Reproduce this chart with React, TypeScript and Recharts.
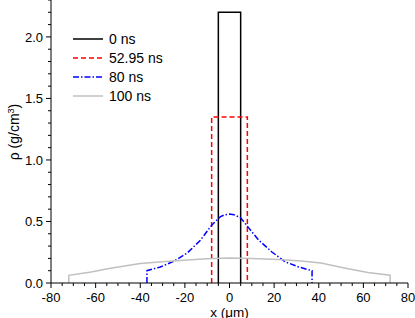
import { LineChart, Line, XAxis, YAxis, Legend } from 'recharts';

// density profiles rho(x) at four times
const NS0 = [
  { x: -5, rho: 0 },
  { x: -5, rho: 2.2 },
  { x: 5, rho: 2.2 },
  { x: 5, rho: 0 },
];

const NS5295 = [
  { x: -8, rho: 0 },
  { x: -8, rho: 1.35 },
  { x: 8, rho: 1.35 },
  { x: 8, rho: 0 },
];

const NS80 = [
  { x: -37, rho: 0 },
  { x: -37, rho: 0.1 },
  { x: -31, rho: 0.13 },
  { x: -25, rho: 0.176 },
  { x: -19, rho: 0.243 },
  { x: -13, rho: 0.348 },
  { x: -8, rho: 0.47 },
  { x: -4, rho: 0.54 },
  { x: -2, rho: 0.555 },
  { x: 0, rho: 0.56 },
  { x: 2, rho: 0.555 },
  { x: 5, rho: 0.53 },
  { x: 8.5, rho: 0.45 },
  { x: 13, rho: 0.35 },
  { x: 19, rho: 0.252 },
  { x: 25, rho: 0.172 },
  { x: 31, rho: 0.13 },
  { x: 37, rho: 0.1 },
  { x: 37, rho: 0 },
];

const NS100 = [
  { x: -72, rho: 0 },
  { x: -72, rho: 0.062 },
  { x: -62, rho: 0.09 },
  { x: -54, rho: 0.117 },
  { x: -40, rho: 0.158 },
  { x: -30, rho: 0.173 },
  { x: -19, rho: 0.186 },
  { x: -10, rho: 0.198 },
  { x: 0, rho: 0.204 },
  { x: 10, rho: 0.2 },
  { x: 22, rho: 0.19 },
  { x: 32, rho: 0.178 },
  { x: 41, rho: 0.162 },
  { x: 52, rho: 0.12 },
  { x: 62, rho: 0.085 },
  { x: 72, rho: 0.063 },
  { x: 72, rho: 0 },
];

const LEGEND_LABELS = ['0 ns', '52.95 ns', '80 ns', '100 ns'];
const X_MAJOR = [-80, -60, -40, -20, 0, 20, 40, 60, 80];
const Y_MAJOR = [0, 0.5, 1, 1.5, 2];

const X_TICKS: number[] = [];
for (let v = -80; v <= 80; v += 5) X_TICKS.push(v);
const Y_TICKS: number[] = [];
for (let i = 0; i <= 23; i++) Y_TICKS.push(i / 10);

const FONT = 'Arial, "Liberation Sans", Helvetica, sans-serif';

const styles = [
  { color: '#000000', dash: undefined },
  { color: '#ff0000', dash: '5 3' },
  { color: '#0000ff', dash: '6 2 1.5 2' },
  { color: '#c0c0c0', dash: undefined },
];

function XTick(props: any) {
  const { x, y, payload } = props;
  const v = payload.value;
  const major = X_MAJOR.includes(v);
  return (
    <g>
      <line x1={x} x2={x} y1={y} y2={y + (major ? 5 : 3)} stroke="#000" />
      {major && (
        <text x={x} y={y + 18.5} textAnchor="middle" fontSize={13} fontFamily={FONT} fill="#000">
          {v}
        </text>
      )}
    </g>
  );
}

function YTick(props: any) {
  const { x, y, payload } = props;
  const v = payload.value;
  const major = Y_MAJOR.some((m) => Math.abs(m - v) < 1e-6);
  return (
    <g>
      <line x1={x - (major ? 5 : 3)} x2={x} y1={y} y2={y} stroke="#000" />
      {major && (
        <text x={x - 8} y={y + 4.6} textAnchor="end" fontSize={13} fontFamily={FONT} fill="#000">
          {v.toFixed(1)}
        </text>
      )}
    </g>
  );
}

function LegendBox() {
  return (
    <svg width={120} height={80} style={{ display: 'block' }}>
      {LEGEND_LABELS.map((name, i) => (
        <g key={name}>
          <line
            x1={0}
            x2={30}
            y1={9 + i * 19}
            y2={9 + i * 19}
            stroke={styles[i].color}
            strokeWidth={1.5}
            strokeDasharray={styles[i].dash}
          />
          <text x={36} y={9 + i * 19 + 5} fontSize={14} fontFamily={FONT} fill="#000">
            {name}
          </text>
        </g>
      ))}
    </svg>
  );
}

export default function App() {
  return (
    <div style={{ position: 'absolute', left: 0, top: 0, width: 415, height: 318, background: '#fff' }}>
      <LineChart width={415} height={318} margin={{ top: 0, right: 7, bottom: 0, left: 0 }}>
        <XAxis
          dataKey="x"
          type="number"
          domain={[-80, 80]}
          ticks={X_TICKS}
          interval={0}
          height={35}
          tickSize={0}
          tickMargin={0}
          tickLine={false}
          tick={<XTick />}
          axisLine={{ stroke: '#000' }}
          allowDataOverflow
          label={(p: any) => {
            const vb = p.viewBox;
            return (
              <text x={vb.x + vb.width / 2} y={vb.y + 33.5} textAnchor="middle" fontSize={13.5} fontFamily={FONT} fill="#000">
                x (μm)
              </text>
            );
          }}
        />
        <YAxis
          type="number"
          domain={[0, 2.3]}
          ticks={Y_TICKS}
          interval={0}
          width={51}
          tickSize={0}
          tickMargin={0}
          tickLine={false}
          tick={<YTick />}
          axisLine={{ stroke: '#000' }}
          allowDataOverflow
          label={() => (
            <text x={19} y={132} transform="rotate(-90 19 132)" textAnchor="middle" fontSize={14} fontFamily={FONT} fill="#000">
              ρ (g/cm
              <tspan dy={-5} fontSize={9}>3</tspan>
              <tspan dy={5}>)</tspan>
            </text>
          )}
        />
        <Legend
          layout="vertical"
          align="center"
          verticalAlign="middle"
          content={() => <LegendBox />}
          wrapperStyle={{ top: 30, left: 73, width: 120, height: 80 }}
        />
        <Line data={NS0} dataKey="rho" type="linear" stroke={styles[0].color} strokeWidth={1.5} dot={false} isAnimationActive={false} />
        <Line data={NS5295} dataKey="rho" type="linear" stroke={styles[1].color} strokeWidth={1.5} strokeDasharray={styles[1].dash} dot={false} isAnimationActive={false} />
        <Line data={NS80} dataKey="rho" type="linear" stroke={styles[2].color} strokeWidth={1.5} strokeDasharray={styles[2].dash} dot={false} isAnimationActive={false} />
        <Line data={NS100} dataKey="rho" type="linear" stroke={styles[3].color} strokeWidth={1.5} dot={false} isAnimationActive={false} />
      </LineChart>
    </div>
  );
}
